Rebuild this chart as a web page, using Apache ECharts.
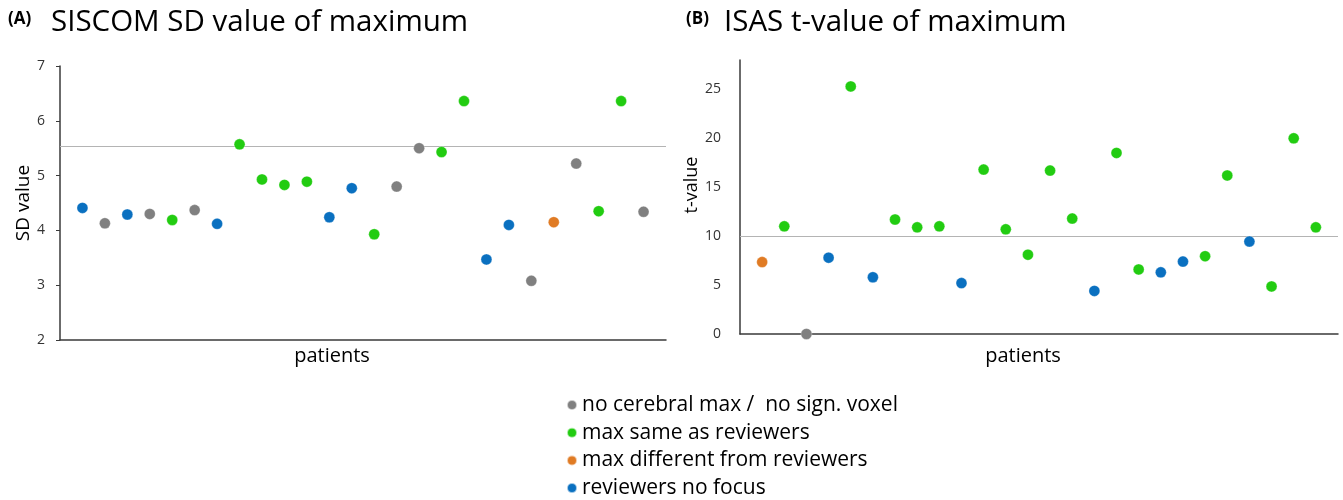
<!DOCTYPE html>
<html><head><meta charset="utf-8">
<script src="https://cdn.jsdelivr.net/npm/echarts@6/dist/echarts.min.js"></script>
<style>html,body{margin:0;padding:0;background:#fff}#c{width:1343px;height:500px}</style>
</head><body><div id="c"></div>
<script>
const groupNames = ['no cerebral max /  no sign. voxel','max same as reviewers','max different from reviewers','reviewers no focus'];
const groupKeys = ['gray','green','orange','blue'];
const groupColors = ['#808080','#22cc11','#e07b24','#0a70c0'];

// Panel A: SISCOM SD value of maximum (patients 1..26)
const siscomValues = [4.41,4.13,4.29,4.30,4.19,4.37,4.12,5.57,4.93,4.83,4.89,4.24,4.77,3.93,4.80,5.50,5.43,6.36,3.47,4.10,3.08,4.15,5.22,4.35,6.36,4.34];
const siscomGroups = ['blue','gray','blue','gray','green','gray','blue','green','green','green','green','blue','blue','green','gray','gray','green','green','blue','blue','gray','orange','gray','green','green','gray'];
const siscomThreshold = 5.53;

// Panel B: ISAS t-value of maximum (patients 1..26)
const isasValues = [7.35,11.0,0.0,7.8,25.3,5.8,11.7,10.9,11.0,5.2,16.8,10.7,8.1,16.7,11.8,4.4,18.5,6.6,6.3,7.4,7.95,16.2,9.45,4.86,20.0,10.9];
const isasGroups = ['orange','green','gray','blue','green','blue','green','green','green','blue','green','green','green','green','green','blue','green','green','blue','blue','green','green','blue','green','green','green'];
const isasThreshold = 10;

const siscomTicks = [2,3,4,5,6,7];
const isasTicks = [0,5,10,15,20,25];

const FONT = 'Open Sans';
const chart = echarts.init(document.getElementById('c'), null, {renderer:'canvas'});

function makeSeries(values, groups, axisIdx, threshold) {
  return groupKeys.map((k, gi) => {
    const data = [];
    values.forEach((v, i) => { if (groups[i] === k) data.push([i + 1, v]); });
    const s = {
      type: 'scatter', name: groupNames[gi], xAxisIndex: axisIdx, yAxisIndex: axisIdx,
      data, symbolSize: 11, z: 3,
      itemStyle: { color: groupColors[gi], opacity: 1, borderColor: 'rgba(255,255,255,0.6)', borderWidth: 0.5 },
      emphasis: { disabled: true }
    };
    if (gi === 0) {
      s.markLine = { silent: true, symbol: 'none', label: { show: false },
        lineStyle: { color: '#b4b4b4', width: 1, type: 'solid' },
        data: [{ yAxis: threshold }], z: 1, animation: false };
    }
    return s;
  });
}

const axisLine = { show: true, lineStyle: { color: '#3a3a3a', width: 1.5 } };
const tagStyle = { fontFamily: FONT, fontSize: 17, fontWeight: 'bold', color: '#000' };
const headStyle = { fontFamily: FONT, fontSize: 29.5, fontWeight: 'normal', color: '#000' };

chart.setOption({
  animation: false,
  textStyle: { fontFamily: FONT },
  title: [
    { left: 8, top: 11, padding: 0, text: '(A)', textStyle: tagStyle },
    { left: 51, top: 8, padding: 0, text: 'SISCOM SD value of maximum', textStyle: headStyle },
    { left: 686, top: 11, padding: 0, text: '(B)', textStyle: tagStyle },
    { left: 724, top: 8, padding: 0, text: 'ISAS t-value of maximum', textStyle: headStyle }
  ],
  legend: {
    orient: 'vertical', left: 561, top: 389, height: 140, itemGap: 5.7, itemWidth: 10, itemHeight: 10,
    icon: 'circle', data: groupNames, selectedMode: false,
    textStyle: { fontFamily: FONT, fontSize: 21, lineHeight: 22, color: '#000' }
  },
  grid: [
    { left: 60, right: 677, top: 66, bottom: 160 },
    { left: 740, right: 5, top: 60, bottom: 166 }
  ],
  xAxis: [
    { type: 'value', gridIndex: 0, min: 0, max: 27, axisLine, axisTick: { show: false }, axisLabel: { show: false }, splitLine: { show: false },
      name: 'patients', nameLocation: 'middle', nameGap: 6, nameTextStyle: { fontFamily: FONT, fontSize: 20, color: '#000', padding: [0, 62, 0, 0] } },
    { type: 'value', gridIndex: 1, min: 0, max: 27, axisLine, axisTick: { show: false }, axisLabel: { show: false }, splitLine: { show: false },
      name: 'patients', nameLocation: 'middle', nameGap: 12, nameTextStyle: { fontFamily: FONT, fontSize: 20, color: '#000', padding: [0, 32, 0, 0] } }
  ],
  yAxis: [
    { type: 'value', gridIndex: 0, min: siscomTicks[0], max: siscomTicks[siscomTicks.length-1], interval: 1, axisLine,
      axisTick: { show: true, length: 4, inside: false, lineStyle:{color:'#3a3a3a'} }, splitLine: { show: false },
      axisLabel: { fontFamily: FONT, fontSize: 14, color: '#333', margin: 15 },
      name: 'SD value', nameLocation: 'middle', nameGap: 25, nameTextStyle: { fontFamily: FONT, fontSize: 19, color: '#000' } },
    { type: 'value', gridIndex: 1, min: 0, max: 28, interval: 5, axisLine,
      axisTick: { show: false }, splitLine: { show: false },
      axisLabel: { fontFamily: FONT, fontSize: 14, color: '#333', margin: 19, formatter: v => isasTicks.includes(v) ? String(v) : '' },
      name: 't-value', nameLocation: 'middle', nameGap: 34, nameTextStyle: { fontFamily: FONT, fontSize: 18, color: '#000', padding: [0, 0, 0, 24] } }
  ],
  series: [
    ...makeSeries(siscomValues, siscomGroups, 0, siscomThreshold),
    ...makeSeries(isasValues, isasGroups, 1, isasThreshold)
  ]
});
</script>
</body></html>
